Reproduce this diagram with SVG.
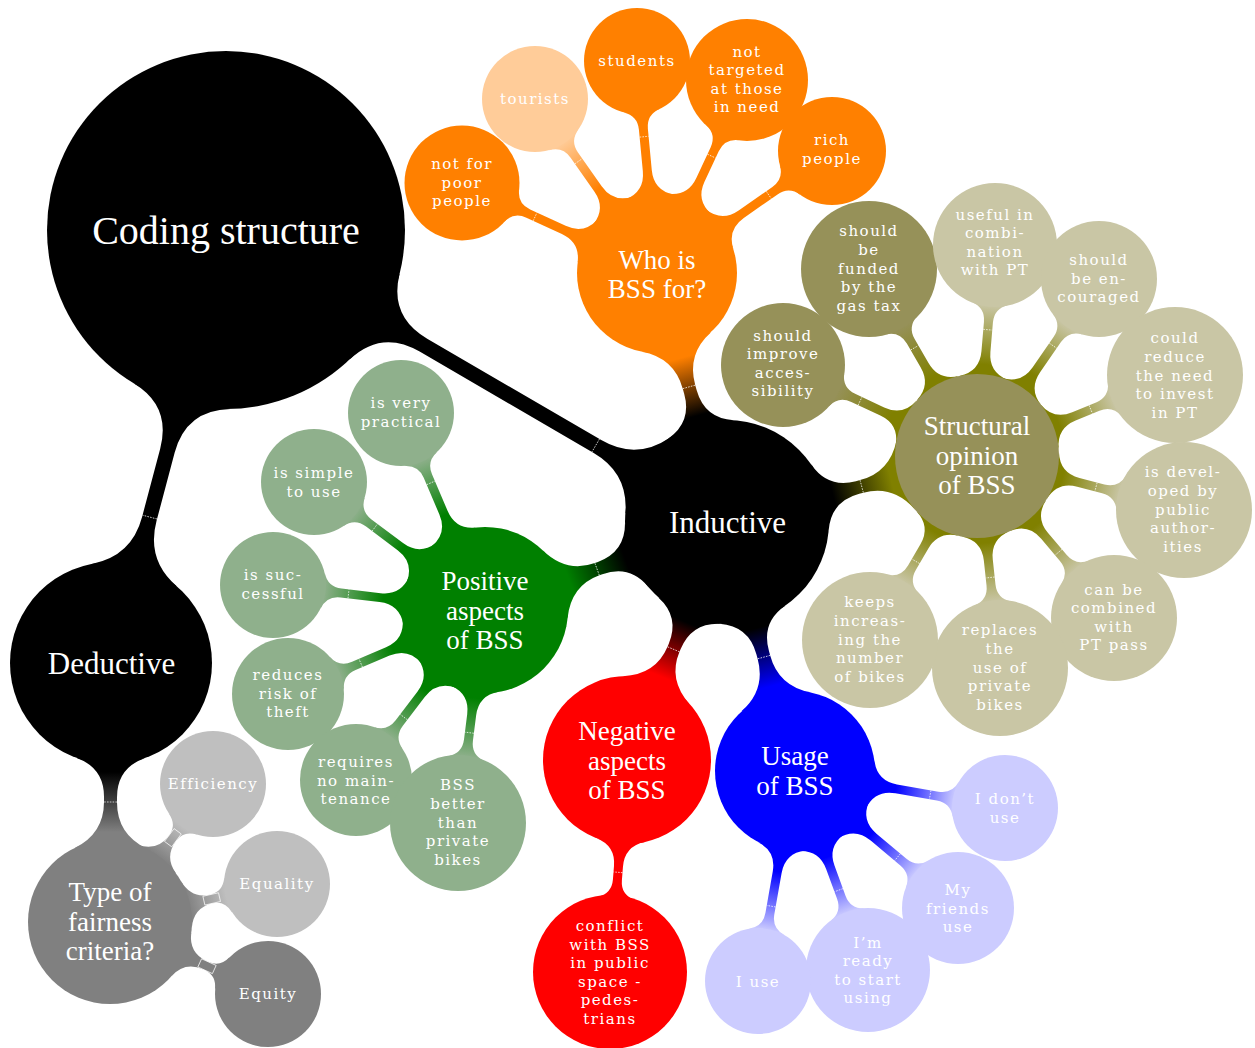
<svg xmlns="http://www.w3.org/2000/svg" width="1255" height="1048" viewBox="0 0 1255 1048">
<style>
  .t0{font-family:"Liberation Serif","Times New Roman",serif;fill:#fff;text-anchor:middle}
  .big{font-size:40px}
  .l0{font-size:31px}
  .l1{font-size:27px}
  .t2{font-family:"DejaVu Serif",serif;font-size:15px;letter-spacing:1.5px;fill:#fff;text-anchor:middle}
  .neck{stroke:#fff;stroke-width:0.7;stroke-dasharray:1.6 1.2;fill:none}
  .box{stroke:#fff;stroke-width:0.7;fill:none}
  .blk{fill:#000}.org{fill:#ff8000}.lor{fill:#ffcc99}.grn{fill:#008000}.lgr{fill:#8fb08c}
  .olv{fill:#969159}.lol{fill:#c9c6a5}.red{fill:#ff0000}.blu{fill:#0000ff}.lbl{fill:#ccccff}
  .gry{fill:#808080}.lgy{fill:#bfbfbf}
</style>
<defs>
  <!-- shading along each connector, in the connector's own frame (neck at x=0) -->
  <linearGradient id="k-or" gradientUnits="userSpaceOnUse" x1="-30" y1="0" x2="30" y2="0"><stop offset="0" stop-color="#000"/><stop offset="1" stop-color="#ff8000"/></linearGradient>
  <linearGradient id="k-gr" gradientUnits="userSpaceOnUse" x1="-30" y1="0" x2="30" y2="0"><stop offset="0" stop-color="#000"/><stop offset="1" stop-color="#008000"/></linearGradient>
  <linearGradient id="k-ol" gradientUnits="userSpaceOnUse" x1="-30" y1="0" x2="30" y2="0"><stop offset="0" stop-color="#000"/><stop offset="1" stop-color="#808000"/></linearGradient>
  <linearGradient id="k-rd" gradientUnits="userSpaceOnUse" x1="-30" y1="0" x2="30" y2="0"><stop offset="0" stop-color="#000"/><stop offset="1" stop-color="#ff0000"/></linearGradient>
  <linearGradient id="k-bl" gradientUnits="userSpaceOnUse" x1="-30" y1="0" x2="30" y2="0"><stop offset="0" stop-color="#000"/><stop offset="1" stop-color="#0000ff"/></linearGradient>
  <linearGradient id="k-gy" gradientUnits="userSpaceOnUse" x1="-30" y1="0" x2="30" y2="0"><stop offset="0" stop-color="#000"/><stop offset="1" stop-color="#808080"/></linearGradient>
  <linearGradient id="or-lor" gradientUnits="userSpaceOnUse" x1="-35" y1="0" x2="25" y2="0"><stop offset="0" stop-color="#ff8000"/><stop offset="1" stop-color="#ffcc99"/></linearGradient>
  <linearGradient id="gr-lgr" gradientUnits="userSpaceOnUse" x1="-35" y1="0" x2="25" y2="0"><stop offset="0" stop-color="#008000"/><stop offset="1" stop-color="#8fb08c"/></linearGradient>
  <linearGradient id="ol-olv" gradientUnits="userSpaceOnUse" x1="-35" y1="0" x2="25" y2="0"><stop offset="0" stop-color="#808000"/><stop offset="1" stop-color="#969159"/></linearGradient>
  <linearGradient id="ol-lol" gradientUnits="userSpaceOnUse" x1="-35" y1="0" x2="25" y2="0"><stop offset="0" stop-color="#808000"/><stop offset="1" stop-color="#c9c6a5"/></linearGradient>
  <linearGradient id="bl-lbl" gradientUnits="userSpaceOnUse" x1="-35" y1="0" x2="25" y2="0"><stop offset="0" stop-color="#0000ff"/><stop offset="1" stop-color="#ccccff"/></linearGradient>
  <linearGradient id="gy-lgy" gradientUnits="userSpaceOnUse" x1="-25" y1="0" x2="15" y2="0"><stop offset="0" stop-color="#808080"/><stop offset="1" stop-color="#bfbfbf"/></linearGradient>
</defs>
<rect width="1255" height="1048" fill="#fff"/>

<g id="connectors">
  <!-- root to level 0 -->
  <g transform="translate(595.7,445.5) rotate(30.23)">
    <path fill="#000" d="M-256.03,50 Q-243.66,7.5 -199.4,7.5 L2.06,7.5 Q42.52,7.5 59.98,44 L59.98,-44 Q42.52,-7.5 2.06,-7.5 L-199.4,-7.5 Q-243.66,-7.5 -256.03,-50 Z"/>
    <line class="neck" x1="0" y1="-7.5" x2="0" y2="7.5"/>
  </g>
  <g transform="translate(149.8,517.1) rotate(104.87)">
    <path fill="#000" d="M-125.13,50 Q-112.76,7.5 -68.5,7.5 L1.9,7.5 Q42.42,7.5 60.09,44 L60.09,-44 Q42.42,-7.5 1.9,-7.5 L-68.5,-7.5 Q-112.76,-7.5 -125.13,-50 Z"/>
    <line class="neck" x1="0" y1="-7.5" x2="0" y2="7.5"/>
  </g>

  <!-- level 0 to level 1 -->
  <g transform="translate(689,386.9) rotate(-105.7)">
    <path fill="url(#k-or)" d="M-44.18,34 Q-34.46,6.5 -5.29,6.5 L0,6.5 Q32.2,6.5 46.6,36 L46.6,-36 Q32.2,-6.5 0,-6.5 L-5.29,-6.5 Q-34.46,-6.5 -44.18,-34 Z"/>
    <line class="neck" x1="0" y1="-6.5" x2="0" y2="6.5"/>
  </g>
  <g transform="translate(597.1,569.2) rotate(160.02)">
    <path fill="url(#k-gr)" d="M-42.08,34 Q-32.36,6.5 -3.19,6.5 L0,6.5 Q30.15,6.5 44.55,36 L44.55,-36 Q30.15,-6.5 0,-6.5 L-3.19,-6.5 Q-32.36,-6.5 -42.08,-34 Z"/>
    <line class="neck" x1="0" y1="-6.5" x2="0" y2="6.5"/>
  </g>
  <g transform="translate(861.7,486.4) rotate(-14.79)">
    <path fill="url(#k-ol)" d="M-43.11,34 Q-33.39,6.5 -4.22,6.5 L0,6.5 Q31.19,6.5 45.59,36 L45.59,-36 Q31.19,-6.5 0,-6.5 L-4.22,-6.5 Q-33.39,-6.5 -43.11,-34 Z"/>
    <line class="neck" x1="0" y1="-6.5" x2="0" y2="6.5"/>
  </g>
  <g transform="translate(673.5,649.3) rotate(112.79)">
    <path fill="url(#k-rd)" d="M-41.9,34 Q-32.18,6.5 -3.01,6.5 L0,6.5 Q29.98,6.5 44.38,36 L44.38,-36 Q29.98,-6.5 0,-6.5 L-3.01,-6.5 Q-32.18,-6.5 -41.9,-34 Z"/>
    <line class="neck" x1="0" y1="-6.5" x2="0" y2="6.5"/>
  </g>
  <g transform="translate(763.9,657.1) rotate(74.73)">
    <path fill="url(#k-bl)" d="M-43.89,34 Q-34.17,6.5 -5,6.5 L0,6.5 Q31.96,6.5 46.36,36 L46.36,-36 Q31.96,-6.5 0,-6.5 L-5,-6.5 Q-34.17,-6.5 -43.89,-34 Z"/>
    <line class="neck" x1="0" y1="-6.5" x2="0" y2="6.5"/>
  </g>
  <g transform="translate(110.5,802) rotate(90.22)">
    <path fill="url(#k-gy)" d="M-43.89,34 Q-34.07,6.5 -4.87,6.5 L0,6.5 Q31.9,6.5 46.3,36 L46.3,-36 Q31.9,-6.5 0,-6.5 L-4.87,-6.5 Q-34.07,-6.5 -43.89,-34 Z"/>
    <line class="neck" x1="0" y1="-6.5" x2="0" y2="6.5"/>
  </g>

  <!-- Who is BSS for? -->
  <g transform="translate(535.1,216.7) rotate(-155.22)">
    <path fill="#ff8000" d="M-57.87,24 Q-51.87,4.5 -31.57,4.5 L7.5,4.5 Q21.5,4.5 26,18 L26,-18 Q21.5,-4.5 7.5,-4.5 L-31.57,-4.5 Q-51.87,-4.5 -57.87,-24 Z"/>
    <line class="neck" x1="0" y1="-4.5" x2="0" y2="4.5"/>
  </g>
  <g transform="translate(578.6,161.2) rotate(-125.04)">
    <path fill="url(#or-lor)" d="M-60.1,24 Q-54.1,4.5 -33.8,4.5 L7.5,4.5 Q21.5,4.5 26,18 L26,-18 Q21.5,-4.5 7.5,-4.5 L-33.8,-4.5 Q-54.1,-4.5 -60.1,-24 Z"/>
    <line class="neck" x1="0" y1="-4.5" x2="0" y2="4.5"/>
  </g>
  <g transform="translate(644.1,136.7) rotate(-95.39)">
    <path fill="#ff8000" d="M-60.54,24 Q-54.54,4.5 -34.24,4.5 L7.5,4.5 Q21.5,4.5 26,18 L26,-18 Q21.5,-4.5 7.5,-4.5 L-34.24,-4.5 Q-54.54,-4.5 -60.54,-24 Z"/>
    <line class="neck" x1="0" y1="-4.5" x2="0" y2="4.5"/>
  </g>
  <g transform="translate(711.5,156.1) rotate(-65)">
    <path fill="#ff8000" d="M-52.55,24 Q-46.55,4.5 -26.25,4.5 L7.5,4.5 Q21.5,4.5 26,18 L26,-18 Q21.5,-4.5 7.5,-4.5 L-26.25,-4.5 Q-46.55,-4.5 -52.55,-24 Z"/>
    <line class="neck" x1="0" y1="-4.5" x2="0" y2="4.5"/>
  </g>
  <g transform="translate(768.8,195) rotate(-34.89)">
    <path fill="#ff8000" d="M-59.93,24 Q-53.93,4.5 -33.63,4.5 L7.5,4.5 Q21.5,4.5 26,18 L26,-18 Q21.5,-4.5 7.5,-4.5 L-33.63,-4.5 Q-53.93,-4.5 -59.93,-24 Z"/>
    <line class="neck" x1="0" y1="-4.5" x2="0" y2="4.5"/>
  </g>

  <!-- Positive aspects of BSS -->
  <g transform="translate(430.8,482.9) rotate(-113.09)">
    <path fill="url(#gr-lgr)" d="M-58.76,24 Q-52.76,4.5 -32.46,4.5 L7.5,4.5 Q21.5,4.5 26,18 L26,-18 Q21.5,-4.5 7.5,-4.5 L-32.46,-4.5 Q-52.76,-4.5 -58.76,-24 Z"/>
    <line class="neck" x1="0" y1="-4.5" x2="0" y2="4.5"/>
  </g>
  <g transform="translate(374.8,527.5) rotate(-143.18)">
    <path fill="url(#gr-lgr)" d="M-58.2,24 Q-52.2,4.5 -31.9,4.5 L7.5,4.5 Q21.5,4.5 26,18 L26,-18 Q21.5,-4.5 7.5,-4.5 L-31.9,-4.5 Q-52.2,-4.5 -58.2,-24 Z"/>
    <line class="neck" x1="0" y1="-4.5" x2="0" y2="4.5"/>
  </g>
  <g transform="translate(348.5,593.9) rotate(-173.27)">
    <path fill="url(#gr-lgr)" d="M-58.07,24 Q-52.07,4.5 -31.77,4.5 L7.5,4.5 Q21.5,4.5 26,18 L26,-18 Q21.5,-4.5 7.5,-4.5 L-31.77,-4.5 Q-52.07,-4.5 -58.07,-24 Z"/>
    <line class="neck" x1="0" y1="-4.5" x2="0" y2="4.5"/>
  </g>
  <g transform="translate(360.7,663) rotate(156.91)">
    <path fill="url(#gr-lgr)" d="M-55.76,24 Q-49.76,4.5 -29.46,4.5 L7.5,4.5 Q21.5,4.5 26,18 L26,-18 Q21.5,-4.5 7.5,-4.5 L-29.46,-4.5 Q-49.76,-4.5 -55.76,-24 Z"/>
    <line class="neck" x1="0" y1="-4.5" x2="0" y2="4.5"/>
  </g>
  <g transform="translate(403.8,717.1) rotate(127.19)">
    <path fill="url(#gr-lgr)" d="M-55,24 Q-49,4.5 -28.7,4.5 L7.5,4.5 Q21.5,4.5 26,18 L26,-18 Q21.5,-4.5 7.5,-4.5 L-28.7,-4.5 Q-49,-4.5 -55,-24 Z"/>
    <line class="neck" x1="0" y1="-4.5" x2="0" y2="4.5"/>
  </g>
  <g transform="translate(469.4,732.7) rotate(97.22)">
    <path fill="url(#gr-lgr)" d="M-44.3,24 Q-38.3,4.5 -18,4.5 L7.5,4.5 Q21.5,4.5 26,18 L26,-18 Q21.5,-4.5 7.5,-4.5 L-18,-4.5 Q-38.3,-4.5 -44.3,-24 Z"/>
    <line class="neck" x1="0" y1="-4.5" x2="0" y2="4.5"/>
  </g>

  <!-- Structural opinion of BSS -->
  <g transform="translate(860,401.1) rotate(-154.87)">
    <path fill="url(#ol-olv)" d="M-50.88,24 Q-44.88,4.5 -24.58,4.5 L7.5,4.5 Q21.5,4.5 26,18 L26,-18 Q21.5,-4.5 7.5,-4.5 L-24.58,-4.5 Q-44.88,-4.5 -50.88,-24 Z"/>
    <line class="neck" x1="0" y1="-4.5" x2="0" y2="4.5"/>
  </g>
  <g transform="translate(914.5,347.8) rotate(-119.99)">
    <path fill="url(#ol-olv)" d="M-46.55,24 Q-40.55,4.5 -20.25,4.5 L7.5,4.5 Q21.5,4.5 26,18 L26,-18 Q21.5,-4.5 7.5,-4.5 L-20.25,-4.5 Q-40.55,-4.5 -46.55,-24 Z"/>
    <line class="neck" x1="0" y1="-4.5" x2="0" y2="4.5"/>
  </g>
  <g transform="translate(987.8,329.7) rotate(-85.12)">
    <path fill="url(#ol-lol)" d="M-48.37,24 Q-42.37,4.5 -22.07,4.5 L7.5,4.5 Q21.5,4.5 26,18 L26,-18 Q21.5,-4.5 7.5,-4.5 L-22.07,-4.5 Q-42.37,-4.5 -48.37,-24 Z"/>
    <line class="neck" x1="0" y1="-4.5" x2="0" y2="4.5"/>
  </g>
  <g transform="translate(1053,345.7) rotate(-55.43)">
    <path fill="url(#ol-lol)" d="M-55.57,24 Q-49.57,4.5 -29.27,4.5 L7.5,4.5 Q21.5,4.5 26,18 L26,-18 Q21.5,-4.5 7.5,-4.5 L-29.27,-4.5 Q-49.57,-4.5 -55.57,-24 Z"/>
    <line class="neck" x1="0" y1="-4.5" x2="0" y2="4.5"/>
  </g>
  <g transform="translate(1090.8,409.5) rotate(-22.25)">
    <path fill="url(#ol-lol)" d="M-44.53,24 Q-38.53,4.5 -18.23,4.5 L7.5,4.5 Q21.5,4.5 26,18 L26,-18 Q21.5,-4.5 7.5,-4.5 L-18.23,-4.5 Q-38.53,-4.5 -44.53,-24 Z"/>
    <line class="neck" x1="0" y1="-4.5" x2="0" y2="4.5"/>
  </g>
  <g transform="translate(1096,487) rotate(14.62)">
    <path fill="url(#ol-lol)" d="M-44.53,24 Q-38.53,4.5 -18.23,4.5 L7.5,4.5 Q21.5,4.5 26,18 L26,-18 Q21.5,-4.5 7.5,-4.5 L-18.23,-4.5 Q-38.53,-4.5 -44.53,-24 Z"/>
    <line class="neck" x1="0" y1="-4.5" x2="0" y2="4.5"/>
  </g>
  <g transform="translate(1058.5,552.3) rotate(49.78)">
    <path fill="url(#ol-lol)" d="M-47.76,24 Q-41.76,4.5 -21.46,4.5 L7.5,4.5 Q21.5,4.5 26,18 L26,-18 Q21.5,-4.5 7.5,-4.5 L-21.46,-4.5 Q-41.76,-4.5 -47.76,-24 Z"/>
    <line class="neck" x1="0" y1="-4.5" x2="0" y2="4.5"/>
  </g>
  <g transform="translate(990.2,577.5) rotate(83.81)">
    <path fill="url(#ol-lol)" d="M-43.84,24 Q-37.84,4.5 -17.54,4.5 L7.5,4.5 Q21.5,4.5 26,18 L26,-18 Q21.5,-4.5 7.5,-4.5 L-17.54,-4.5 Q-37.84,-4.5 -43.84,-24 Z"/>
    <line class="neck" x1="0" y1="-4.5" x2="0" y2="4.5"/>
  </g>
  <g transform="translate(915.7,561.3) rotate(120.18)">
    <path fill="url(#ol-lol)" d="M-43.45,24 Q-37.45,4.5 -17.15,4.5 L7.5,4.5 Q21.5,4.5 26,18 L26,-18 Q21.5,-4.5 7.5,-4.5 L-17.15,-4.5 Q-37.45,-4.5 -43.45,-24 Z"/>
    <line class="neck" x1="0" y1="-4.5" x2="0" y2="4.5"/>
  </g>

  <!-- Negative aspects of BSS -->
  <g transform="translate(618,872.3) rotate(94.58)">
    <path fill="#ff0000" d="M-32.28,24 Q-26.28,4.5 -5.98,4.5 L7.5,4.5 Q21.5,4.5 26,18 L26,-18 Q21.5,-4.5 7.5,-4.5 L-5.98,-4.5 Q-26.28,-4.5 -32.28,-24 Z"/>
    <line class="neck" x1="0" y1="-4.5" x2="0" y2="4.5"/>
  </g>

  <!-- Usage of BSS -->
  <g transform="translate(930.2,794.8) rotate(9.99)">
    <path fill="url(#bl-lbl)" d="M-60.83,24 Q-54.83,4.5 -34.53,4.5 L7.5,4.5 Q21.5,4.5 26,18 L26,-18 Q21.5,-4.5 7.5,-4.5 L-34.53,-4.5 Q-54.83,-4.5 -60.83,-24 Z"/>
    <line class="neck" x1="0" y1="-4.5" x2="0" y2="4.5"/>
  </g>
  <g transform="translate(897.5,857.2) rotate(40.05)">
    <path fill="url(#bl-lbl)" d="M-57.53,24 Q-51.53,4.5 -31.23,4.5 L7.5,4.5 Q21.5,4.5 26,18 L26,-18 Q21.5,-4.5 7.5,-4.5 L-31.23,-4.5 Q-51.53,-4.5 -57.53,-24 Z"/>
    <line class="neck" x1="0" y1="-4.5" x2="0" y2="4.5"/>
  </g>
  <g transform="translate(838.7,890.2) rotate(69.86)">
    <path fill="url(#bl-lbl)" d="M-50.57,24 Q-44.57,4.5 -24.27,4.5 L7.5,4.5 Q21.5,4.5 26,18 L26,-18 Q21.5,-4.5 7.5,-4.5 L-24.27,-4.5 Q-44.57,-4.5 -50.57,-24 Z"/>
    <line class="neck" x1="0" y1="-4.5" x2="0" y2="4.5"/>
  </g>
  <g transform="translate(771.2,906.2) rotate(99.99)">
    <path fill="url(#bl-lbl)" d="M-60.83,24 Q-54.83,4.5 -34.53,4.5 L7.5,4.5 Q21.5,4.5 26,18 L26,-18 Q21.5,-4.5 7.5,-4.5 L-34.53,-4.5 Q-54.83,-4.5 -60.83,-24 Z"/>
    <line class="neck" x1="0" y1="-4.5" x2="0" y2="4.5"/>
  </g>

  <!-- Type of fairness criteria? -->
  <g transform="translate(172.9,837.7) rotate(-53.27)">
    <path fill="url(#gy-lgy)" d="M-26.8,24 Q-20.8,4.5 -0.5,4.5 L0,4.5 Q12.5,4.5 17,18 L17,-18 Q12.5,-4.5 0,-4.5 L-0.5,-4.5 Q-20.8,-4.5 -26.8,-24 Z"/>
    <rect class="box" x="-8" y="-4.5" width="16" height="9"/>
  </g>
  <g transform="translate(211.7,898.9) rotate(-12.82)">
    <path fill="url(#gy-lgy)" d="M-25.87,24 Q-19.87,4.5 0,4.5 Q12.5,4.5 17,18 L17,-18 Q12.5,-4.5 0,-4.5 Q-19.87,-4.5 -25.87,-24 Z"/>
    <rect class="box" x="-8" y="-4.5" width="16" height="9"/>
  </g>
  <g transform="translate(207,966.2) rotate(24.5)">
    <path fill="#808080" d="M-28.23,24 Q-22.23,4.5 -1.93,4.5 L0,4.5 Q12.5,4.5 17,18 L17,-18 Q12.5,-4.5 0,-4.5 L-1.93,-4.5 Q-22.23,-4.5 -28.23,-24 Z"/>
    <rect class="box" x="-8" y="-4.5" width="16" height="9"/>
  </g>
</g>

<!-- root -->
<g id="coding-structure">
  <circle class="blk" cx="226" cy="230" r="179"/>
  <text class="t0 big" x="226" y="243.5">Coding structure</text>
</g>

<!-- deductive branch -->
<g id="deductive">
  <circle class="blk" cx="111" cy="663" r="101"/>
  <text class="t0 l0" x="111.5" y="673.5">Deductive</text>
</g>
<g id="fairness">
  <circle class="gry" cx="110" cy="922" r="82"/>
  <text class="t0 l1" x="110"><tspan x="110" y="901">Type of</tspan><tspan x="110" y="930.5">fairness</tspan><tspan x="110" y="960">criteria?</tspan></text>
</g>
<g id="efficiency">
  <circle class="lgy" cx="213" cy="784" r="53"/>
  <text class="t2" x="213" y="788.5">Efficiency</text>
</g>
<g id="equality">
  <circle class="lgy" cx="277" cy="884" r="53"/>
  <text class="t2" x="277" y="888.5">Equality</text>
</g>
<g id="equity">
  <circle class="gry" cx="268" cy="994" r="53"/>
  <text class="t2" x="268" y="998.5">Equity</text>
</g>

<!-- inductive branch -->
<g id="inductive">
  <circle class="blk" cx="727" cy="522" r="102"/>
  <text class="t0 l0" x="727.5" y="532.5">Inductive</text>
</g>

<g id="who">
  <circle class="org" cx="657" cy="273" r="80"/>
  <text class="t0 l1"><tspan x="657" y="268.5">Who is</tspan><tspan x="657" y="298">BSS for?</tspan></text>
</g>
<g id="not-for-poor">
  <circle class="org" cx="462" cy="183" r="57.5"/>
  <text class="t2"><tspan x="462" y="168.9">not for</tspan><tspan x="462" y="187.5">poor</tspan><tspan x="462" y="206.1">people</tspan></text>
</g>
<g id="tourists">
  <circle class="lor" cx="535" cy="99" r="53"/>
  <text class="t2" x="535" y="103.5">tourists</text>
</g>
<g id="students">
  <circle class="org" cx="637" cy="61" r="53"/>
  <text class="t2" x="637" y="65.5">students</text>
</g>
<g id="not-targeted">
  <circle class="org" cx="747" cy="80" r="61"/>
  <text class="t2"><tspan x="747" y="56.6">not</tspan><tspan x="747" y="75.2">targeted</tspan><tspan x="747" y="93.8">at those</tspan><tspan x="747" y="112.4">in need</tspan></text>
</g>
<g id="rich">
  <circle class="org" cx="832" cy="151" r="54"/>
  <text class="t2"><tspan x="832" y="145.2">rich</tspan><tspan x="832" y="163.8">people</tspan></text>
</g>

<g id="positive">
  <circle class="grn" cx="485" cy="610" r="83"/>
  <text class="t0 l1"><tspan x="485" y="590">Positive</tspan><tspan x="485" y="619.5">aspects</tspan><tspan x="485" y="649">of BSS</tspan></text>
</g>
<g id="practical">
  <circle class="lgr" cx="401" cy="413" r="53"/>
  <text class="t2"><tspan x="401" y="408.2">is very</tspan><tspan x="401" y="426.8">practical</tspan></text>
</g>
<g id="simple">
  <circle class="lgr" cx="314" cy="482" r="53"/>
  <text class="t2"><tspan x="314" y="478.2">is simple</tspan><tspan x="314" y="496.8">to use</tspan></text>
</g>
<g id="successful">
  <circle class="lgr" cx="273" cy="585" r="53"/>
  <text class="t2"><tspan x="273" y="580.2">is suc-</tspan><tspan x="273" y="598.8">cessful</tspan></text>
</g>
<g id="theft">
  <circle class="lgr" cx="288" cy="694" r="56"/>
  <text class="t2"><tspan x="288" y="679.9">reduces</tspan><tspan x="288" y="698.5">risk of</tspan><tspan x="288" y="717.1">theft</tspan></text>
</g>
<g id="maintenance">
  <circle class="lgr" cx="356" cy="780" r="56"/>
  <text class="t2"><tspan x="356" y="766.9">requires</tspan><tspan x="356" y="785.5">no main-</tspan><tspan x="356" y="804.1">tenance</tspan></text>
</g>
<g id="better">
  <circle class="lgr" cx="458" cy="823" r="68"/>
  <text class="t2"><tspan x="458" y="790.3">BSS</tspan><tspan x="458" y="808.9">better</tspan><tspan x="458" y="827.5">than</tspan><tspan x="458" y="846.1">private</tspan><tspan x="458" y="864.7">bikes</tspan></text>
</g>

<g id="structural">
  <circle class="olv" cx="977" cy="456" r="82"/>
  <text class="t0 l1"><tspan x="977" y="435">Structural</tspan><tspan x="977" y="464.5">opinion</tspan><tspan x="977" y="494">of BSS</tspan></text>
</g>
<g id="accessibility">
  <circle class="olv" cx="783" cy="365" r="62"/>
  <text class="t2"><tspan x="783" y="340.6">should</tspan><tspan x="783" y="359.2">improve</tspan><tspan x="783" y="377.8">acces-</tspan><tspan x="783" y="396.4">sibility</tspan></text>
</g>
<g id="gas-tax">
  <circle class="olv" cx="869" cy="269" r="68"/>
  <text class="t2"><tspan x="869" y="236.3">should</tspan><tspan x="869" y="254.9">be</tspan><tspan x="869" y="273.5">funded</tspan><tspan x="869" y="292.1">by the</tspan><tspan x="869" y="310.7">gas tax</tspan></text>
</g>
<g id="useful-pt">
  <circle class="lol" cx="995" cy="245" r="62"/>
  <text class="t2"><tspan x="995" y="219.6">useful in</tspan><tspan x="995" y="238.2">combi-</tspan><tspan x="995" y="256.8">nation</tspan><tspan x="995" y="275.4">with PT</tspan></text>
</g>
<g id="encouraged">
  <circle class="lol" cx="1099" cy="279" r="58"/>
  <text class="t2"><tspan x="1099" y="264.9">should</tspan><tspan x="1099" y="283.5">be en-</tspan><tspan x="1099" y="302.1">couraged</tspan></text>
</g>
<g id="reduce-invest">
  <circle class="lol" cx="1175" cy="375" r="68"/>
  <text class="t2"><tspan x="1175" y="343.3">could</tspan><tspan x="1175" y="361.9">reduce</tspan><tspan x="1175" y="380.5">the need</tspan><tspan x="1175" y="399.1">to invest</tspan><tspan x="1175" y="417.7">in PT</tspan></text>
</g>
<g id="public-authorities">
  <circle class="lol" cx="1184" cy="510" r="68"/>
  <text class="t2"><tspan x="1183" y="477.3">is devel-</tspan><tspan x="1183" y="495.9">oped by</tspan><tspan x="1183" y="514.5">public</tspan><tspan x="1183" y="533.1">author-</tspan><tspan x="1183" y="551.7">ities</tspan></text>
</g>
<g id="pt-pass">
  <circle class="lol" cx="1114" cy="618" r="63"/>
  <text class="t2"><tspan x="1114" y="594.6">can be</tspan><tspan x="1114" y="613.2">combined</tspan><tspan x="1114" y="631.8">with</tspan><tspan x="1114" y="650.4">PT pass</tspan></text>
</g>
<g id="replaces">
  <circle class="lol" cx="1000" cy="668" r="68"/>
  <text class="t2"><tspan x="1000" y="635.3">replaces</tspan><tspan x="1000" y="653.9">the</tspan><tspan x="1000" y="672.5">use of</tspan><tspan x="1000" y="691.1">private</tspan><tspan x="1000" y="709.7">bikes</tspan></text>
</g>
<g id="more-bikes">
  <circle class="lol" cx="870" cy="640" r="68"/>
  <text class="t2"><tspan x="870" y="607.3">keeps</tspan><tspan x="870" y="625.9">increas-</tspan><tspan x="870" y="644.5">ing the</tspan><tspan x="870" y="663.1">number</tspan><tspan x="870" y="681.7">of bikes</tspan></text>
</g>

<g id="negative">
  <circle class="red" cx="627" cy="760" r="84"/>
  <text class="t0 l1"><tspan x="627" y="740">Negative</tspan><tspan x="627" y="769.5">aspects</tspan><tspan x="627" y="799">of BSS</tspan></text>
</g>
<g id="conflict">
  <circle class="red" cx="610" cy="972" r="77"/>
  <text class="t2"><tspan x="610" y="931">conflict</tspan><tspan x="610" y="949.6">with BSS</tspan><tspan x="610" y="968.2">in public</tspan><tspan x="610" y="986.8">space -</tspan><tspan x="610" y="1005.4">pedes-</tspan><tspan x="610" y="1024">trians</tspan></text>
</g>

<g id="usage">
  <circle class="blu" cx="795" cy="771" r="80"/>
  <text class="t0 l1"><tspan x="795" y="765.3">Usage</tspan><tspan x="795" y="794.8">of BSS</tspan></text>
</g>
<g id="dont-use">
  <circle class="lbl" cx="1005" cy="808" r="53"/>
  <text class="t2"><tspan x="1005" y="804.2">I don’t</tspan><tspan x="1005" y="822.8">use</tspan></text>
</g>
<g id="friends-use">
  <circle class="lbl" cx="958" cy="908" r="56"/>
  <text class="t2"><tspan x="958" y="894.9">My</tspan><tspan x="958" y="913.5">friends</tspan><tspan x="958" y="932.1">use</tspan></text>
</g>
<g id="ready-to-start">
  <circle class="lbl" cx="868" cy="970" r="62"/>
  <text class="t2"><tspan x="868" y="947.6">I’m</tspan><tspan x="868" y="966.2">ready</tspan><tspan x="868" y="984.8">to start</tspan><tspan x="868" y="1003.4">using</tspan></text>
</g>
<g id="i-use">
  <circle class="lbl" cx="758" cy="981" r="53"/>
  <text class="t2" x="758" y="986.5">I use</text>
</g>
</svg>
